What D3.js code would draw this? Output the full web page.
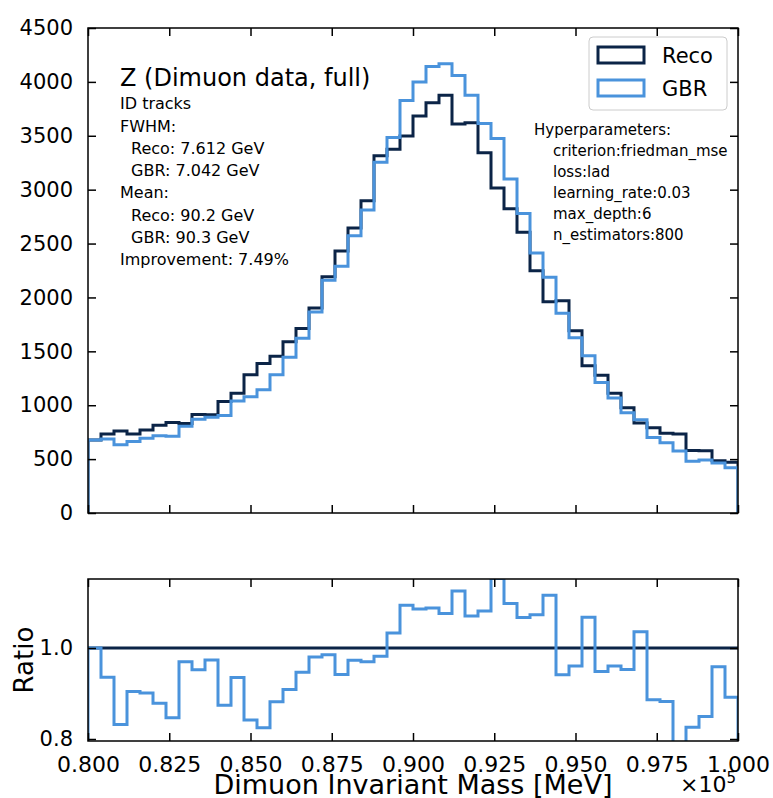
<!DOCTYPE html>
<html>
<head>
<meta charset="utf-8">
<script src="https://cdn.jsdelivr.net/npm/d3@7"></script>
<style>
  html, body { margin: 0; padding: 0; background: #ffffff; }
  svg { display: block; font-family: "DejaVu Sans", sans-serif; }
</style>
</head>
<body>
<svg id="chart" width="773" height="798"></svg>
<script>
// Histogram bin edges of the dimuon invariant mass [MeV]
const binEdges = [80000, 80400, 80800, 81200, 81600, 82000, 82400, 82800, 83200, 83600,
  84000, 84400, 84800, 85200, 85600, 86000, 86400, 86800, 87200, 87600,
  88000, 88400, 88800, 89200, 89600, 90000, 90400, 90800, 91200, 91600,
  92000, 92400, 92800, 93200, 93600, 94000, 94400, 94800, 95200, 95600,
  96000, 96400, 96800, 97200, 97600, 98000, 98400, 98800, 99200, 99600, 100000];

// Counts per bin
const recoCounts = [678, 733, 761, 733, 770, 815, 840, 830, 915, 912,
  1035, 1112, 1282, 1387, 1455, 1590, 1713, 1902, 2193, 2430,
  2644, 2898, 3315, 3374, 3498, 3683, 3807, 3875, 3609, 3621,
  3343, 3015, 2824, 2605, 2248, 1961, 1970, 1692, 1367, 1277,
  1110, 976, 835, 790, 739, 733, 580, 578, 485, 470];
const gbrCounts = [678, 686, 633, 663, 694, 716, 711, 805, 871, 888,
  905, 1040, 1079, 1144, 1283, 1445, 1622, 1864, 2160, 2289,
  2573, 2811, 3255, 3485, 3827, 3999, 4142, 4169, 4060, 3875,
  3614, 3475, 3100, 2780, 2412, 2188, 1854, 1625, 1459, 1211,
  1066, 930, 865, 700, 652, 575, 479, 491, 465, 419];

// Axis ticks
const xTicks = [80000, 82500, 85000, 87500, 90000, 92500, 95000, 97500, 100000];
const xTickLabels = ["0.800", "0.825", "0.850", "0.875", "0.900", "0.925", "0.950", "0.975", "1.000"];
const yTicks = [0, 500, 1000, 1500, 2000, 2500, 3000, 3500, 4000, 4500];
const ratioTicks = [0.8, 1.0];
const ratioTickLabels = ["0.8", "1.0"];

// Annotation texts
const titleText = "Z (Dimuon data, full)";
const infoLines = [
  { t: "ID tracks", indent: false },
  { t: "FWHM:", indent: false },
  { t: "Reco: 7.612 GeV", indent: true },
  { t: "GBR: 7.042 GeV", indent: true },
  { t: "Mean:", indent: false },
  { t: "Reco: 90.2 GeV", indent: true },
  { t: "GBR: 90.3 GeV", indent: true },
  { t: "Improvement: 7.49%", indent: false }
];
const hyperLines = [
  { t: "Hyperparameters:", indent: false },
  { t: "criterion:friedman_mse", indent: true },
  { t: "loss:lad", indent: true },
  { t: "learning_rate:0.03", indent: true },
  { t: "max_depth:6", indent: true },
  { t: "n_estimators:800", indent: true }
];
const seriesNames = ["Reco", "GBR"];
const seriesColors = ["#0b2447", "#4a93dc"];

const svg = d3.select("#chart");

// Panel geometry
const L = 88, R = 738;
const topY0 = 28, topY1 = 513;
const botY0 = 579, botY1 = 741;

const x = d3.scaleLinear().domain([80000, 100000]).range([L, R]);
const y = d3.scaleLinear().domain([0, 4500]).range([topY1, topY0]);
const yr = d3.scaleLinear().domain([0.7956, 1.1516]).range([botY1, botY0]);

const defs = svg.append("defs");
defs.append("clipPath").attr("id", "clipTop")
  .append("rect").attr("x", L).attr("y", topY0).attr("width", R - L).attr("height", topY1 - topY0);
defs.append("clipPath").attr("id", "clipBot")
  .append("rect").attr("x", L).attr("y", botY0).attr("width", R - L).attr("height", botY1 - botY0);

// Step outline (matplotlib histtype='step'): drops to the baseline at both ends
function stepPoints(values, base) {
  const pts = [[binEdges[0], base]];
  values.forEach((v, i) => pts.push([binEdges[i], v]));
  pts.push([binEdges[binEdges.length - 1], values[values.length - 1]]);
  pts.push([binEdges[binEdges.length - 1], base]);
  return pts;
}

// ---------- top panel ----------
const lineTop = d3.line().x(d => x(d[0])).y(d => y(d[1])).curve(d3.curveStepAfter);
const gTop = svg.append("g").attr("clip-path", "url(#clipTop)");
[recoCounts, gbrCounts].forEach((vals, k) => {
  gTop.append("path")
    .attr("d", lineTop(stepPoints(vals, 0)))
    .attr("fill", "none")
    .attr("stroke", seriesColors[k])
    .attr("stroke-width", 3)
    .attr("stroke-linejoin", "miter");
});

// axes with inward ticks
const tickLen = 8;
const axL = d3.axisLeft(y).tickValues(yTicks).tickSize(-tickLen).tickPadding(tickLen + 7).tickFormat(d3.format("d"));
const axR = d3.axisRight(y).tickValues(yTicks).tickSize(-tickLen).tickFormat("");
const axBt = d3.axisBottom(x).tickValues(xTicks).tickSize(-tickLen).tickFormat("");
const axTt = d3.axisTop(x).tickValues(xTicks).tickSize(-tickLen).tickFormat("");

function styleAxis(g, fontSize) {
  g.select(".domain").remove();
  g.selectAll(".tick line").attr("stroke", "#000").attr("stroke-width", 1.5);
  g.selectAll(".tick text").attr("fill", "#000").attr("font-size", fontSize)
    .attr("font-family", "DejaVu Sans, sans-serif");
}
svg.append("g").attr("transform", `translate(${L},0)`).call(axL).call(g => styleAxis(g, 21));
svg.append("g").attr("transform", `translate(${R},0)`).call(axR).call(g => styleAxis(g, 21));
svg.append("g").attr("transform", `translate(0,${topY1})`).call(axBt).call(g => styleAxis(g, 21));
svg.append("g").attr("transform", `translate(0,${topY0})`).call(axTt).call(g => styleAxis(g, 21));

svg.append("rect").attr("x", L).attr("y", topY0).attr("width", R - L).attr("height", topY1 - topY0)
  .attr("fill", "none").attr("stroke", "#000").attr("stroke-width", 1.5);

// title and info block
svg.append("text").attr("x", 120).attr("y", 86).attr("font-size", 24).attr("fill", "#000").text(titleText);
const infoBase = [109, 131.5, 153.5, 176, 198, 220.5, 243, 265];
svg.append("g").selectAll("text").data(infoLines).join("text")
  .attr("x", d => d.indent ? 131 : 120)
  .attr("y", (d, i) => infoBase[i])
  .attr("font-size", 16).attr("fill", "#000")
  .text(d => d.t);

const hyperBase = [135, 156, 177, 197.5, 218.5, 239.5];
svg.append("g").selectAll("text").data(hyperLines).join("text")
  .attr("x", d => d.indent ? 553 : 534)
  .attr("y", (d, i) => hyperBase[i])
  .attr("font-size", 15).attr("fill", "#000")
  .text(d => d.t);

// legend
const leg = svg.append("g");
leg.append("rect").attr("x", 589).attr("y", 37).attr("width", 138).attr("height", 73).attr("rx", 4)
  .attr("fill", "#fff").attr("fill-opacity", 0.8).attr("stroke", "#cccccc").attr("stroke-width", 1);
seriesNames.forEach((name, k) => {
  const cy = 55 + k * 33;
  leg.append("rect").attr("x", 598).attr("y", cy - 8).attr("width", 46).attr("height", 16)
    .attr("fill", "none").attr("stroke", seriesColors[k]).attr("stroke-width", 3);
  leg.append("text").attr("x", 662).attr("y", cy + 8).attr("font-size", 21).attr("fill", "#000").text(name);
});

// ---------- ratio panel ----------
const ratio = gbrCounts.map((v, i) => v / recoCounts[i]);
const lineBot = d3.line().x(d => x(d[0])).y(d => yr(d[1])).curve(d3.curveStepAfter);
const gBot = svg.append("g").attr("clip-path", "url(#clipBot)");
gBot.append("line").attr("x1", x(80000)).attr("x2", x(100000)).attr("y1", yr(1)).attr("y2", yr(1))
  .attr("stroke", seriesColors[0]).attr("stroke-width", 3);
gBot.append("path")
  .attr("d", lineBot(stepPoints(ratio, 0)))
  .attr("fill", "none").attr("stroke", seriesColors[1]).attr("stroke-width", 3);

const rL = d3.axisLeft(yr).tickValues(ratioTicks).tickSize(-tickLen).tickPadding(tickLen + 7)
  .tickFormat((d, i) => ratioTickLabels[i]);
const rR = d3.axisRight(yr).tickValues(ratioTicks).tickSize(-tickLen).tickFormat("");
const rB = d3.axisBottom(x).tickValues(xTicks).tickSize(-tickLen).tickPadding(tickLen + 7)
  .tickFormat((d, i) => xTickLabels[i]);
const rT = d3.axisTop(x).tickValues(xTicks).tickSize(-tickLen).tickFormat("");
svg.append("g").attr("transform", `translate(${L},0)`).call(rL).call(g => styleAxis(g, 21));
svg.append("g").attr("transform", `translate(${R},0)`).call(rR).call(g => styleAxis(g, 21));
svg.append("g").attr("transform", `translate(0,${botY1})`).call(rB).call(g => styleAxis(g, 22));
svg.append("g").attr("transform", `translate(0,${botY0})`).call(rT).call(g => styleAxis(g, 21));

svg.append("rect").attr("x", L).attr("y", botY0).attr("width", R - L).attr("height", botY1 - botY0)
  .attr("fill", "none").attr("stroke", "#000").attr("stroke-width", 1.5);

// axis labels
svg.append("text").attr("transform", `translate(33,${(botY0 + botY1) / 2}) rotate(-90)`)
  .attr("text-anchor", "middle").attr("font-size", 26).attr("fill", "#000").text("Ratio");
svg.append("text").attr("x", (L + R) / 2).attr("y", 794).attr("text-anchor", "middle")
  .attr("font-size", 27).attr("fill", "#000").text("Dimuon Invariant Mass [MeV]");
const off = svg.append("text").attr("x", 736).attr("y", 792).attr("text-anchor", "end")
  .attr("font-size", 22).attr("fill", "#000");
off.append("tspan").text("×10");
off.append("tspan").attr("dy", -9).attr("font-size", 15).text("5");
</script>
</body>
</html>
